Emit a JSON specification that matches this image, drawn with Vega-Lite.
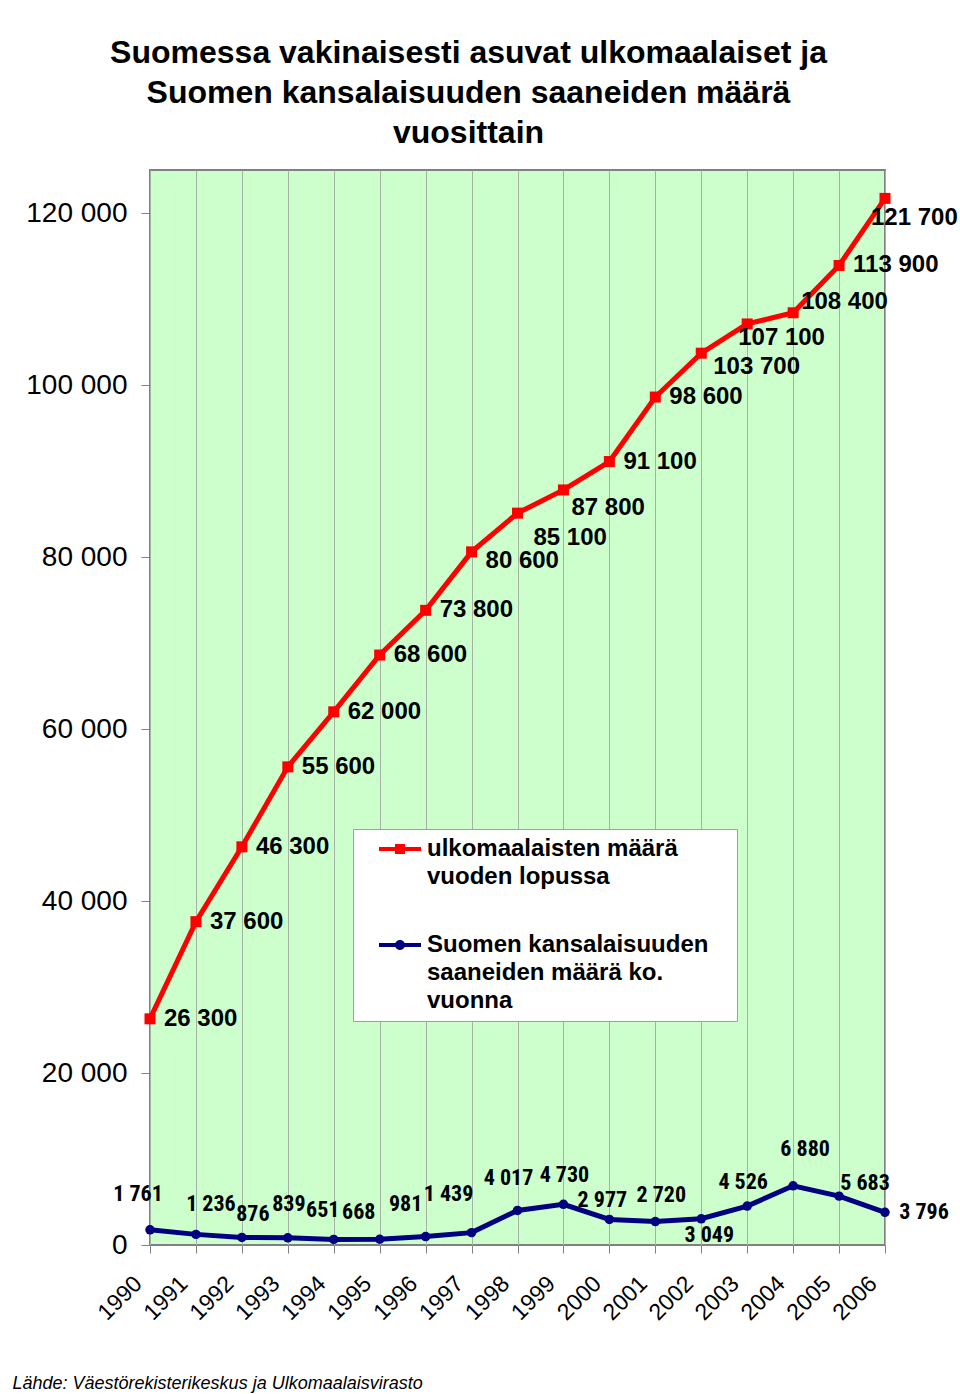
{
  "$schema": "https://vega.github.io/schema/vega-lite/v6.json",
  "width": 735,
  "height": 1075,
  "autosize": "none",
  "padding": {"left": 150, "top": 170, "right": 75, "bottom": 149},
  "background": "white",
  "title": {
    "text": ["Suomessa vakinaisesti asuvat ulkomaalaiset ja", "Suomen kansalaisuuden saaneiden määrä", "vuosittain"],
    "fontSize": 32, "fontWeight": "bold", "font": "Liberation Sans", "lineHeight": 40,
    "anchor": "middle", "dx": -49, "offset": 20, "color": "black"
  },
  "config": {
    "locale": {"number": {"decimal": ",", "thousands": " ", "grouping": [3], "currency": ["", ""]}},
    "view": {"fill": "#CCFFCC", "stroke": "#808080", "strokeWidth": 2},
    "font": "Liberation Sans"
  },
  "data": {"values": [
    {"year": 1990, "series": "ulk", "value": 26300},
    {"year": 1991, "series": "ulk", "value": 37600},
    {"year": 1992, "series": "ulk", "value": 46300},
    {"year": 1993, "series": "ulk", "value": 55600},
    {"year": 1994, "series": "ulk", "value": 62000},
    {"year": 1995, "series": "ulk", "value": 68600},
    {"year": 1996, "series": "ulk", "value": 73800},
    {"year": 1997, "series": "ulk", "value": 80600},
    {"year": 1998, "series": "ulk", "value": 85100},
    {"year": 1999, "series": "ulk", "value": 87800},
    {"year": 2000, "series": "ulk", "value": 91100},
    {"year": 2001, "series": "ulk", "value": 98600},
    {"year": 2002, "series": "ulk", "value": 103700},
    {"year": 2003, "series": "ulk", "value": 107100},
    {"year": 2004, "series": "ulk", "value": 108400},
    {"year": 2005, "series": "ulk", "value": 113900},
    {"year": 2006, "series": "ulk", "value": 121700},
    {"year": 1990, "series": "kans", "value": 1761},
    {"year": 1991, "series": "kans", "value": 1236},
    {"year": 1992, "series": "kans", "value": 876},
    {"year": 1993, "series": "kans", "value": 839},
    {"year": 1994, "series": "kans", "value": 651},
    {"year": 1995, "series": "kans", "value": 668},
    {"year": 1996, "series": "kans", "value": 981},
    {"year": 1997, "series": "kans", "value": 1439},
    {"year": 1998, "series": "kans", "value": 4017},
    {"year": 1999, "series": "kans", "value": 4730},
    {"year": 2000, "series": "kans", "value": 2977},
    {"year": 2001, "series": "kans", "value": 2720},
    {"year": 2002, "series": "kans", "value": 3049},
    {"year": 2003, "series": "kans", "value": 4526},
    {"year": 2004, "series": "kans", "value": 6880},
    {"year": 2005, "series": "kans", "value": 5683},
    {"year": 2006, "series": "kans", "value": 3796}
  ]},
  "encoding": {
    "x": {
      "field": "year", "type": "ordinal",
      "scale": {"type": "point", "padding": 0},
      "axis": {
        "title": "Lähde: Väestörekisterikeskus ja Ulkomaalaisvirasto",
        "titleFontStyle": "italic", "titleFontWeight": "normal", "titleFontSize": 18,
        "titleFont": "Liberation Sans", "titleColor": "black",
        "titleX": -138, "titleY": 138, "titleAlign": "left", "titleBaseline": "middle", "titleAngle": 0,
        "labelAngle": -45, "labelFontSize": 23, "labelColor": "black", "labelPadding": 19, "labelOffset": -20,
        "grid": true, "gridColor": "#a4b4a4", "gridWidth": 1,
        "domain": false, "tickSize": 8, "tickColor": "#808080"
      }
    },
    "y": {
      "field": "value", "type": "quantitative",
      "scale": {"domain": [0, 125000], "nice": false, "zero": true},
      "axis": {
        "values": [0, 20000, 40000, 60000, 80000, 100000, 120000],
        "format": ",.0f", "title": null, "grid": false, "domain": false,
        "tickSize": 9, "tickColor": "#808080",
        "labelFontSize": 28, "labelPadding": 14, "labelColor": "black"
      }
    }
  },
  "layer": [
    {
      "transform": [{"filter": "datum.series == 'ulk'"}],
      "mark": {"type": "line", "color": "#FF0000", "strokeWidth": 5}
    },
    {
      "transform": [{"filter": "datum.series == 'ulk'"}],
      "mark": {"type": "point", "shape": "square", "filled": true, "size": 121, "color": "#FF0000", "opacity": 1}
    },
    {
      "transform": [{"filter": "datum.series == 'kans'"}],
      "mark": {"type": "line", "color": "#000080", "strokeWidth": 5}
    },
    {
      "transform": [{"filter": "datum.series == 'kans'"}],
      "mark": {"type": "point", "shape": "circle", "filled": true, "size": 90, "color": "#000080", "opacity": 1}
    },
    {
      "transform": [{"filter": "datum.year < 0"}],
      "mark": {"type": "point", "filled": true, "size": 100},
      "encoding": {
        "color": {
          "field": "series", "type": "nominal",
          "scale": {"domain": ["ulk", "kans"], "range": ["#FF0000", "#000080"]},
          "legend": {
            "orient": "none", "legendX": 203, "legendY": 659,
            "title": " ", "titleOrient": "right", "titlePadding": 21, "titleFontSize": 11,
            "fillColor": "white", "strokeColor": "#a0a0a0", "padding": 8,
            "symbolOffset": 27, "labelOffset": 15, "symbolSize": 100,
            "symbolStrokeWidth": 0, "symbolOpacity": 1,
            "labelFontSize": 24, "labelFontWeight": "bold", "labelFont": "Liberation Sans",
            "labelColor": "black", "labelLimit": 0, "labelBaseline": "middle", "rowPadding": 44,
            "labelExpr": "datum.value == 'ulk' ? ['ulkomaalaisten määrä','vuoden lopussa'] : ['Suomen kansalaisuuden','saaneiden määrä ko.','vuonna']",
            "encode": {"labels": {"update": {"lineHeight": {"value": 28}}}}
          }
        },
        "shape": {
          "field": "series", "type": "nominal",
          "scale": {"domain": ["ulk", "kans"], "range": [
            "M-4.2,-0.4H4.2V0.4H-4.2Z M-1,-1H1V1H-1Z",
            "M-4.2,-0.4H4.2V0.4H-4.2Z M1,0A1,1,0,1,1,-1,0A1,1,0,1,1,1,0Z"
          ]}
        }
      }
    },
    {
      "transform": [{"filter": "datum.series == 'ulk'"}],
      "encoding": {"text": {"field": "value", "type": "quantitative", "format": ","}},
      "layer": [
        {"transform": [{"filter": {"field": "year", "oneOf": [1990, 1991, 1992, 1993, 1994, 1995, 1996, 2000, 2001, 2005]}}],
         "mark": {"type": "text", "align": "left", "baseline": "middle", "dx": 14, "dy": 0, "fontSize": 24, "fontWeight": "bold", "color": "black"}},
        {"transform": [{"filter": "datum.year == 1997"}],
         "mark": {"type": "text", "align": "left", "baseline": "middle", "dx": 14, "dy": 9, "fontSize": 24, "fontWeight": "bold", "color": "black"}},
        {"transform": [{"filter": "datum.year == 1998"}],
         "mark": {"type": "text", "align": "left", "baseline": "middle", "dx": 16, "dy": 25, "fontSize": 24, "fontWeight": "bold", "color": "black"}},
        {"transform": [{"filter": "datum.year == 1999"}],
         "mark": {"type": "text", "align": "left", "baseline": "middle", "dx": 8, "dy": 18, "fontSize": 24, "fontWeight": "bold", "color": "black"}},
        {"transform": [{"filter": "datum.year == 2002"}],
         "mark": {"type": "text", "align": "left", "baseline": "middle", "dx": 12, "dy": 14, "fontSize": 24, "fontWeight": "bold", "color": "black"}},
        {"transform": [{"filter": "datum.year == 2003"}],
         "mark": {"type": "text", "align": "left", "baseline": "middle", "dx": -9, "dy": 14, "fontSize": 24, "fontWeight": "bold", "color": "black"}},
        {"transform": [{"filter": "datum.year == 2004"}],
         "mark": {"type": "text", "align": "left", "baseline": "middle", "dx": 8, "dy": -11, "fontSize": 24, "fontWeight": "bold", "color": "black"}},
        {"transform": [{"filter": "datum.year == 2006"}],
         "mark": {"type": "text", "align": "left", "baseline": "middle", "dx": -14, "dy": 20, "fontSize": 24, "fontWeight": "bold", "color": "black"}}
      ]
    },
    {
      "transform": [{"filter": "datum.series == 'kans'"}],
      "encoding": {"text": {"field": "value", "type": "quantitative", "format": ","}},
      "layer": [
        {"transform": [{"filter": "datum.year == 1990"}], "mark": {"type": "text", "align": "center", "baseline": "middle", "dx": -12, "dy": -36, "fontSize": 22, "fontWeight": "bold", "font": "Roboto Condensed, Roboto", "color": "black"}},
        {"transform": [{"filter": "datum.year == 1991"}], "mark": {"type": "text", "align": "center", "baseline": "middle", "dx": 15, "dy": -30, "fontSize": 22, "fontWeight": "bold", "font": "Roboto Condensed, Roboto", "color": "black"}},
        {"transform": [{"filter": "datum.year == 1992"}], "mark": {"type": "text", "align": "center", "baseline": "middle", "dx": 11, "dy": -23, "fontSize": 22, "fontWeight": "bold", "font": "Roboto Condensed, Roboto", "color": "black"}},
        {"transform": [{"filter": "datum.year == 1993"}], "mark": {"type": "text", "align": "center", "baseline": "middle", "dx": 1, "dy": -34, "fontSize": 22, "fontWeight": "bold", "font": "Roboto Condensed, Roboto", "color": "black"}},
        {"transform": [{"filter": "datum.year == 1994"}], "mark": {"type": "text", "align": "center", "baseline": "middle", "dx": -11, "dy": -29, "fontSize": 22, "fontWeight": "bold", "font": "Roboto Condensed, Roboto", "color": "black"}},
        {"transform": [{"filter": "datum.year == 1995"}], "mark": {"type": "text", "align": "center", "baseline": "middle", "dx": -21, "dy": -27, "fontSize": 22, "fontWeight": "bold", "font": "Roboto Condensed, Roboto", "color": "black"}},
        {"transform": [{"filter": "datum.year == 1996"}], "mark": {"type": "text", "align": "center", "baseline": "middle", "dx": -20, "dy": -33, "fontSize": 22, "fontWeight": "bold", "font": "Roboto Condensed, Roboto", "color": "black"}},
        {"transform": [{"filter": "datum.year == 1997"}], "mark": {"type": "text", "align": "center", "baseline": "middle", "dx": -23, "dy": -39, "fontSize": 22, "fontWeight": "bold", "font": "Roboto Condensed, Roboto", "color": "black"}},
        {"transform": [{"filter": "datum.year == 1998"}], "mark": {"type": "text", "align": "center", "baseline": "middle", "dx": -9, "dy": -32, "fontSize": 22, "fontWeight": "bold", "font": "Roboto Condensed, Roboto", "color": "black"}},
        {"transform": [{"filter": "datum.year == 1999"}], "mark": {"type": "text", "align": "center", "baseline": "middle", "dx": 1, "dy": -29, "fontSize": 22, "fontWeight": "bold", "font": "Roboto Condensed, Roboto", "color": "black"}},
        {"transform": [{"filter": "datum.year == 2000"}], "mark": {"type": "text", "align": "center", "baseline": "middle", "dx": -7, "dy": -19, "fontSize": 22, "fontWeight": "bold", "font": "Roboto Condensed, Roboto", "color": "black"}},
        {"transform": [{"filter": "datum.year == 2001"}], "mark": {"type": "text", "align": "center", "baseline": "middle", "dx": 6, "dy": -27, "fontSize": 22, "fontWeight": "bold", "font": "Roboto Condensed, Roboto", "color": "black"}},
        {"transform": [{"filter": "datum.year == 2002"}], "mark": {"type": "text", "align": "center", "baseline": "middle", "dx": 8, "dy": 16, "fontSize": 22, "fontWeight": "bold", "font": "Roboto Condensed, Roboto", "color": "black"}},
        {"transform": [{"filter": "datum.year == 2003"}], "mark": {"type": "text", "align": "center", "baseline": "middle", "dx": -4, "dy": -24, "fontSize": 22, "fontWeight": "bold", "font": "Roboto Condensed, Roboto", "color": "black"}},
        {"transform": [{"filter": "datum.year == 2004"}], "mark": {"type": "text", "align": "center", "baseline": "middle", "dx": 12, "dy": -37, "fontSize": 22, "fontWeight": "bold", "font": "Roboto Condensed, Roboto", "color": "black"}},
        {"transform": [{"filter": "datum.year == 2005"}], "mark": {"type": "text", "align": "center", "baseline": "middle", "dx": 26, "dy": -13, "fontSize": 22, "fontWeight": "bold", "font": "Roboto Condensed, Roboto", "color": "black"}},
        {"transform": [{"filter": "datum.year == 2006"}], "mark": {"type": "text", "align": "center", "baseline": "middle", "dx": 39, "dy": 0, "fontSize": 22, "fontWeight": "bold", "font": "Roboto Condensed, Roboto", "color": "black"}}
      ]
    }
  ]
}
